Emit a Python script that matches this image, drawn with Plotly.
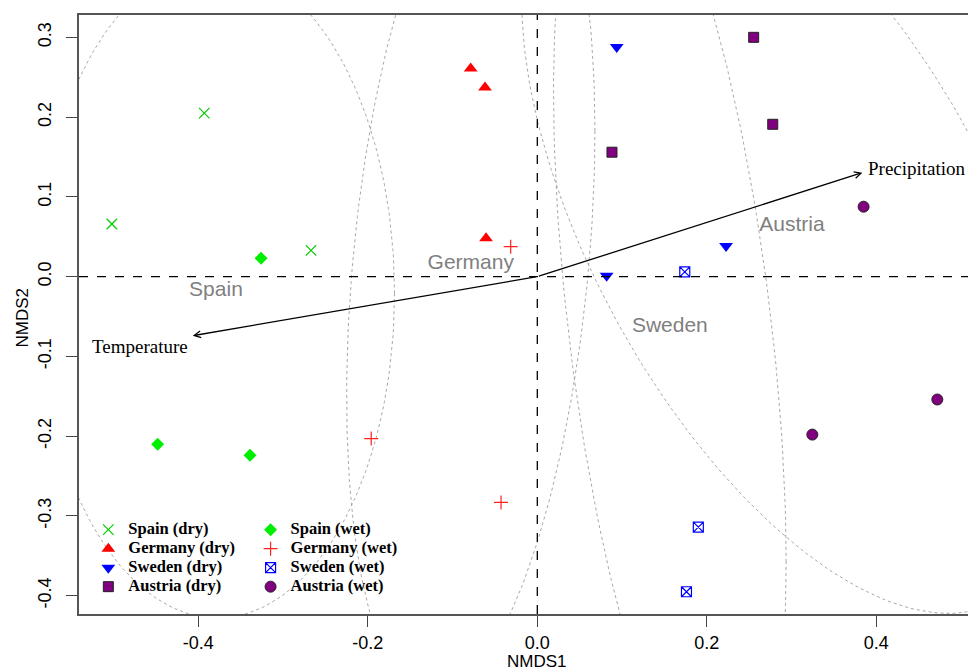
import numpy as np
import plotly.graph_objects as go

# ---- data ----
spain_dry_x = [-0.502, -0.393, -0.267]
spain_dry_y = [0.066, 0.205, 0.033]
spain_wet_x = [-0.326, -0.448, -0.339]
spain_wet_y = [0.023, -0.210, -0.224]
germany_dry_x = [-0.0786, -0.0617, -0.0605]
germany_dry_y = [0.261, 0.237, 0.048]
germany_wet_x = [-0.0314, -0.196, -0.0428]
germany_wet_y = [0.0376, -0.203, -0.283]
sweden_dry_x = [0.0937, 0.0818, 0.2227]
sweden_dry_y = [0.288, 0.001, 0.0385]
sweden_wet_x = [0.174, 0.190, 0.176]
sweden_wet_y = [0.006, -0.314, -0.395]
austria_dry_x = [0.0881, 0.2553, 0.2778]
austria_dry_y = [0.156, 0.300, 0.191]
austria_wet_x = [0.385, 0.3245, 0.472]
austria_wet_y = [0.0877, -0.198, -0.154]

group_names = ["Spain", "Germany", "Sweden", "Austria"]

env_names = ["Temperature", "Precipitation"]
env_x = [-0.4066, 0.3835]
env_y = [-0.0740, 0.1304]
env_label_x = [-0.4688, 0.4479]
env_label_y = [-0.0878, 0.1359]

xtick_vals = [-0.4, -0.2, 0.0, 0.2, 0.4]
xtick_text = ["-0.4", "-0.2", "0.0", "0.2", "0.4"]
ytick_vals = [-0.4, -0.3, -0.2, -0.1, 0.0, 0.1, 0.2, 0.3]
ytick_text = ["-0.4", "-0.3", "-0.2", "-0.1", "0.0", "0.1", "0.2", "0.3"]

# ---- figure ----
fig = go.Figure()

groups = {
    "Spain": (spain_dry_x + spain_wet_x, spain_dry_y + spain_wet_y),
    "Germany": (germany_dry_x + germany_wet_x, germany_dry_y + germany_wet_y),
    "Sweden": (sweden_dry_x + sweden_wet_x, sweden_dry_y + sweden_wet_y),
    "Austria": (austria_dry_x + austria_wet_x, austria_dry_y + austria_wet_y),
}

# ordiellipse(kind="sd", conf=0.95) style ellipses
conf = 0.95
scale = np.sqrt(-2 * np.log(1 - conf))
theta = np.linspace(0, 2 * np.pi, 241)
circ = np.column_stack([np.cos(theta), np.sin(theta)])
for name in group_names:
    gx, gy = groups[name]
    X = np.column_stack([gx, gy])
    c = X.mean(axis=0)
    L = np.linalg.cholesky(np.cov(X.T))
    pts = c + scale * circ @ L.T
    fig.add_trace(go.Scatter(x=pts[:, 0], y=pts[:, 1], mode="lines",
                             line=dict(color="#a8a8a8", width=1, dash="dot"),
                             showlegend=False, hoverinfo="skip"))

fig.add_hline(y=0, line=dict(color="black", width=1.3, dash="dash"))
fig.add_vline(x=0, line=dict(color="black", width=1.3, dash="dash"))

# group labels at centroids
for name in group_names:
    gx, gy = groups[name]
    fig.add_trace(go.Scatter(x=[np.mean(gx)], y=[np.mean(gy)], mode="text", text=[name],
                             textfont=dict(family="Liberation Sans, Arial", size=21, color="#7f7f7f"),
                             showlegend=False, hoverinfo="skip"))

series = [
    ("Spain (dry)", spain_dry_x, spain_dry_y, dict(symbol="x-thin-open", size=10.5, color="#00cc00", line=dict(color="#00cc00", width=1.2)), "legend"),
    ("Germany (dry)", germany_dry_x, germany_dry_y, dict(symbol="triangle-up", size=12, color="#ff0000", line=dict(width=0)), "legend"),
    ("Sweden (dry)", sweden_dry_x, sweden_dry_y, dict(symbol="triangle-down", size=12, color="#0000ff", line=dict(width=0)), "legend"),
    ("Austria (dry)", austria_dry_x, austria_dry_y, dict(symbol="square", size=10, color="#800080", line=dict(color="#222222", width=1)), "legend"),
    ("Spain (wet)", spain_wet_x, spain_wet_y, dict(symbol="diamond", size=10, color="#00ee00", line=dict(width=0)), "legend2"),
    ("Germany (wet)", germany_wet_x, germany_wet_y, dict(symbol="cross-thin-open", size=10, color="#ff2020", line=dict(color="#ff2020", width=1.2)), "legend2"),
    ("Sweden (wet)", sweden_wet_x, sweden_wet_y, dict(symbol="square-x-open", size=10, color="#0000ff", line=dict(color="#0000ff", width=1.2)), "legend2"),
    ("Austria (wet)", austria_wet_x, austria_wet_y, dict(symbol="circle", size=11, color="#800080", line=dict(color="#222222", width=1)), "legend2"),
]
for name, xs, ys, mk, lg in series:
    fig.add_trace(go.Scatter(x=xs, y=ys, mode="markers", name=name, marker=mk, legend=lg,
                             cliponaxis=False))

# environmental vectors (envfit arrows)
for name, ex, ey, lx, ly in zip(env_names, env_x, env_y, env_label_x, env_label_y):
    fig.add_annotation(x=ex, y=ey, ax=0, ay=0, xref="x", yref="y", axref="x", ayref="y",
                       text="", showarrow=True, arrowhead=5, arrowsize=1, arrowwidth=1.3,
                       arrowcolor="black")
    fig.add_annotation(x=lx, y=ly, xref="x", yref="y", text=name, showarrow=False,
                       font=dict(family="Liberation Serif, Times New Roman", size=19, color="black"))

fig.add_annotation(x=0, y=-0.0785, xref="x", yref="paper", text="NMDS1", showarrow=False,
                   xanchor="center", yanchor="middle",
                   font=dict(family="Liberation Sans, Arial", size=17, color="black"))
fig.add_annotation(x=-0.0641, y=0.495, xref="paper", yref="paper", text="NMDS2", showarrow=False,
                   xanchor="center", yanchor="middle", textangle=-90,
                   font=dict(family="Liberation Sans, Arial", size=17, color="black"))

axis_common = dict(showgrid=False, zeroline=False, showline=True, linecolor="#555555", linewidth=1.5,
                   mirror=True, ticks="outside", ticklen=11, tickwidth=1.2, tickcolor="#444444",
                   automargin=False,
                   tickfont=dict(family="Liberation Sans, Arial", size=18, color="black"))
fig.update_xaxes(range=[-0.5408, 0.5082], tickvals=xtick_vals, ticktext=xtick_text,
                 ticklabelstandoff=1, **axis_common)
fig.update_yaxes(range=[-0.4229, 0.328], tickvals=ytick_vals, ticktext=ytick_text, tickangle=-90,
                 ticklabelstandoff=8, **axis_common)

legend_font = dict(family="Liberation Serif, Times New Roman", size=12.3, color="black", weight="bold")
fig.update_layout(
    width=968, height=671,
    margin=dict(l=79, r=0, t=15, b=57, autoexpand=False),
    plot_bgcolor="white", paper_bgcolor="white",
    legend=dict(x=0.0105, y=0.165, xanchor="left", yanchor="top", bgcolor="rgba(0,0,0,0)",
                font=legend_font, itemsizing="trace"),
    legend2=dict(x=0.193, y=0.165, xanchor="left", yanchor="top", bgcolor="rgba(0,0,0,0)",
                 font=legend_font, itemsizing="trace"),
)
for tr in fig.data:
    if tr.name:
        tr.name = '<span style="font-size:16.5px">' + tr.name + '</span>'

# remove the default 8px page margin so the figure fills the window exactly
fig.write_html("out.html", config={"displayModeBar": False},
               post_script="document.body.style.margin='0';document.body.style.overflow='hidden';")
